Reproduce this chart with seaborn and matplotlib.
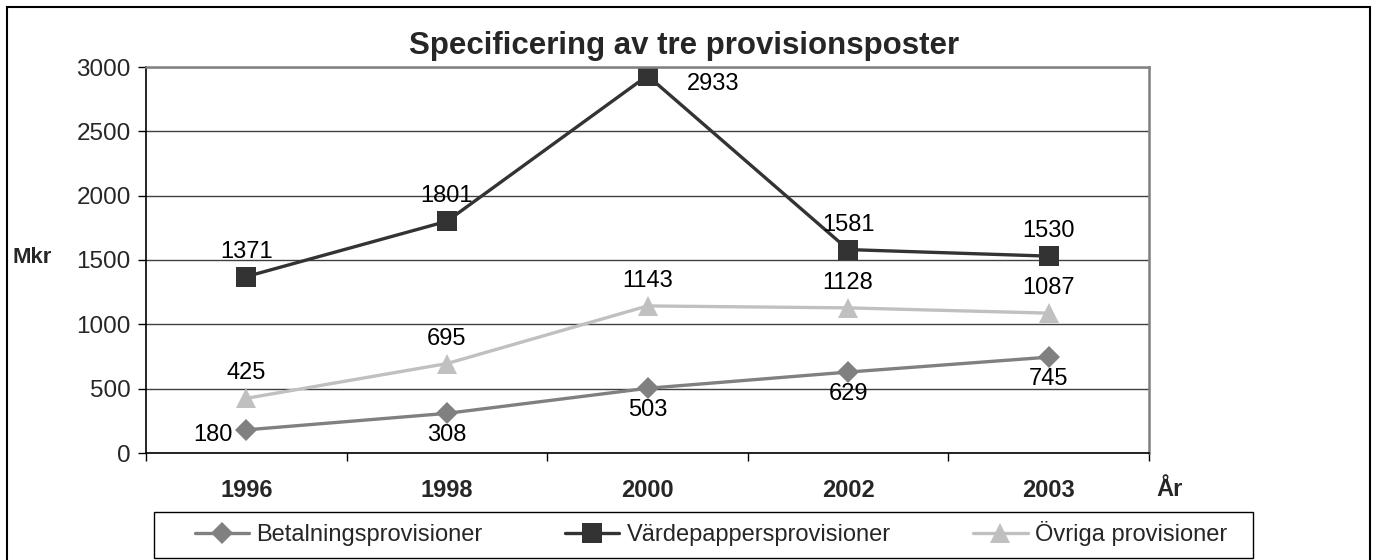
import matplotlib
matplotlib.use("Agg")
import matplotlib.pyplot as plt
import seaborn as sns
import pandas as pd
from matplotlib.patches import Rectangle
from matplotlib.ticker import FixedLocator

years = ["1996", "1998", "2000", "2002", "2003"]
betalning = [180, 308, 503, 629, 745]
vardepapper = [1371, 1801, 2933, 1581, 1530]
ovriga = [425, 695, 1143, 1128, 1087]
series_names = ["Betalningsprovisioner", "Värdepappersprovisioner", "Övriga provisioner"]

title = "Specificering av tre provisionsposter"
ylabel = "Mkr"
xlabel = "År"

# label placement per point (style)
place_bet = ["left", "below", "below", "below", "below"]
place_var = ["above", "above", "right", "above", "above"]
place_ovr = ["above", "above", "above", "above", "above"]

sns.set_theme(style="white")
plt.rcParams['font.family'] = ['Liberation Sans', 'DejaVu Sans']

W, H = 1377, 560
fig = plt.figure(figsize=(W / 100, H / 100), dpi=100)
ax = fig.add_axes([146 / W, (H - 453) / H, 1003 / W, 386 / H])

rows = []
for name, vals in zip(series_names, [betalning, vardepapper, ovriga]):
    for i, (y, v) in enumerate(zip(years, vals)):
        rows.append({"pos": i, "year": y, "value": v, "serie": name})
df = pd.DataFrame(rows)

colors = {"Betalningsprovisioner": "#808080",
          "Värdepappersprovisioner": "#333333",
          "Övriga provisioner": "#c0c0c0"}
markers = {"Betalningsprovisioner": "D",
           "Värdepappersprovisioner": "s",
           "Övriga provisioner": "^"}
msizes = {"Betalningsprovisioner": 11, "Värdepappersprovisioner": 15, "Övriga provisioner": 15}

for name in series_names:
    sub = df[df.serie == name]
    sns.lineplot(data=sub, x="pos", y="value", ax=ax, color=colors[name],
                 marker=markers[name], markersize=msizes[name],
                 markeredgecolor=colors[name], markeredgewidth=0, linewidth=2.4,
                 label=name, legend=False)

ax.set_xlim(-0.5, len(years) - 0.5)
ax.set_ylim(0, 3000)
ax.set_yticks(range(0, 3001, 500))
ax.yaxis.grid(True, color="#404040", linewidth=1.0)
ax.xaxis.grid(False)
ax.set_xticks(range(len(years)))
ax.set_xticklabels(years, fontweight="bold", fontsize=17)
ax.xaxis.set_minor_locator(FixedLocator([i - 0.5 for i in range(len(years) + 1)]))
ax.tick_params(axis="x", which="major", length=0, pad=19)
ax.tick_params(axis="x", which="minor", length=6, width=1, color="black", direction="out", bottom=True)
ax.tick_params(axis="y", length=6, width=1, color="black", direction="out", left=True,
               labelsize=17.5, pad=5)
ax.set_xlabel("")
ax.set_ylabel("")

for side in ["top", "right"]:
    ax.spines[side].set_color("#808080")
    ax.spines[side].set_linewidth(1.8)
for side in ["left", "bottom"]:
    ax.spines[side].set_color("black")
    ax.spines[side].set_linewidth(1.2)

offs = {"above": ((0, 25), "center", "center"),
        "below": ((0, -22), "center", "center"),
        "left": ((-14, -5), "right", "center"),
        "right": ((39, -8), "left", "center")}

for vals, places in [(betalning, place_bet), (vardepapper, place_var), (ovriga, place_ovr)]:
    for i, (v, p) in enumerate(zip(vals, places)):
        (dx, dy), ha, va = offs[p]
        ax.annotate(str(v), (i, v), xytext=(dx, dy), textcoords="offset pixels",
                    ha=ha, va=va, fontsize=17, color="black")

fig.text(684 / W, 1 - 46 / H, title, ha="center", va="center", fontsize=22.5, fontweight="bold")
fig.text(13 / W, 1 - 258 / H, ylabel, ha="left", va="center", fontsize=16, fontweight="bold")
fig.text(1170 / W, 1 - 490 / H, xlabel, ha="center", va="center", fontsize=17, fontweight="bold")

handles, labels = ax.get_legend_handles_labels()
leg = fig.legend(handles, labels, loc="center left", ncol=3,
                 bbox_to_anchor=(176 / W, 1 - 534 / H), frameon=False,
                 fontsize=17, handlelength=2.3, columnspacing=3.5,
                 handletextpad=0.3, borderpad=0.3)

# legend frame and outer chart border
fig.patches.append(Rectangle((154 / W, (H - 558) / H), 1099 / W, 46 / H, transform=fig.transFigure,
                             fill=False, edgecolor="black", linewidth=1.0))
fig.patches.append(Rectangle((7 / W, -5 / H), 1363 / W, 558 / H, transform=fig.transFigure,
                             fill=False, edgecolor="black", linewidth=1.5, clip_on=False))

fig.savefig("out.png", dpi=100)
